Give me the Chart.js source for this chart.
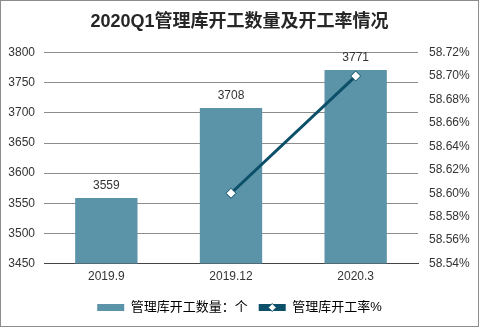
<!DOCTYPE html>
<html lang="zh">
<head>
  <meta charset="UTF-8">
  <title>2020Q1管理库开工数量及开工率情况</title>
  <style>
    body {
      margin: 0;
      padding: 0;
      background: #fff;
    }
    .frame {
      position: absolute;
      left: 0;
      top: 0;
      width: 477px;
      height: 325px;
      border: 1px solid #8c8c8c;
      background: #fff;
    }
    canvas {
      display: block;
    }
  </style>
  <script src="https://cdn.jsdelivr.net/npm/chart.js@4"></script>
</head>
<body>
  <div class="frame">
    <canvas id="chart" width="477" height="325"></canvas>
  </div>
  <script>
    const categories = ['2019.9', '2019.12', '2020.3'];
    const counts = [3559, 3708, 3771];
    const rates = [null, 58.60, 58.70];
    const leftTicks = [3450, 3500, 3550, 3600, 3650, 3700, 3750, 3800];
    const rightTicks = [58.54, 58.56, 58.58, 58.60, 58.62, 58.64, 58.66, 58.68, 58.70, 58.72];

    const font = "Arial, 'Liberation Sans', 'Noto Sans CJK SC', sans-serif";
    const barColor = '#5b93a8';
    const lineColor = '#0c4f68';

    // labels above bars + diamond on the line legend item
    const extras = {
      id: 'extras',
      afterDatasetsDraw(chart) {
        const ctx = chart.ctx;
        const meta = chart.getDatasetMeta(1);
        ctx.save();
        ctx.font = '12px ' + font;
        ctx.fillStyle = '#333';
        ctx.textAlign = 'center';
        ctx.textBaseline = 'bottom';
        meta.data.forEach((bar, i) => {
          ctx.fillText(counts[i], bar.x, bar.y - 6);
        });
        ctx.restore();
      },
      afterDraw(chart) {
        const boxes = chart.legend.legendHitBoxes;
        if (!boxes || boxes.length < 2) return;
        const b = boxes[1];
        const bw = chart.legend.options.labels.boxWidth;
        const cx = b.left + bw / 2;
        const cy = b.top + b.height / 2;
        const ctx = chart.ctx;
        ctx.save();
        ctx.fillStyle = '#fff';
        ctx.strokeStyle = lineColor;
        ctx.lineWidth = 1;
        ctx.beginPath();
        ctx.moveTo(cx, cy - 4);
        ctx.lineTo(cx + 4, cy);
        ctx.lineTo(cx, cy + 4);
        ctx.lineTo(cx - 4, cy);
        ctx.closePath();
        ctx.fill();
        ctx.stroke();
        ctx.restore();
      }
    };

    const ctx = document.getElementById('chart').getContext('2d');
    new Chart(ctx, {
      data: {
        labels: categories,
        datasets: [
          {
            type: 'line',
            label: '管理库开工率%',
            data: rates,
            yAxisID: 'y2',
            borderColor: lineColor,
            borderWidth: 3,
            pointStyle: 'rectRot',
            pointRadius: 5,
            pointBackgroundColor: '#fff',
            pointBorderColor: lineColor,
            pointBorderWidth: 1,
            spanGaps: false,
            order: 0
          },
          {
            type: 'bar',
            label: '管理库开工数量：个',
            data: counts,
            yAxisID: 'y',
            backgroundColor: barColor,
            categoryPercentage: 1,
            barPercentage: 0.5,
            order: 1
          }
        ]
      },
      options: {
        responsive: false,
        animation: false,
        layout: { padding: { left: 0, right: 0, top: 4, bottom: 2 } },
        plugins: {
          title: {
            display: true,
            text: '2020Q1管理库开工数量及开工率情况',
            color: '#262626',
            font: { family: font, size: 18, weight: 'bold' },
            padding: { top: 6, bottom: 20 }
          },
          legend: {
            position: 'bottom',
            labels: {
              color: '#333',
              font: { family: font, size: 13 },
              boxWidth: 27,
              boxHeight: 7,
              padding: 11,
              generateLabels(chart) {
                return [
                  {
                    text: '管理库开工数量：个',
                    fillStyle: barColor,
                    strokeStyle: barColor,
                    lineWidth: 0,
                    datasetIndex: 1
                  },
                  {
                    text: '管理库开工率%',
                    fillStyle: lineColor,
                    strokeStyle: lineColor,
                    lineWidth: 0,
                    datasetIndex: 0
                  }
                ];
              }
            }
          },
          tooltip: { enabled: false }
        },
        scales: {
          x: {
            grid: { display: false, drawTicks: false },
            border: { color: '#444' },
            ticks: { color: '#333', font: { family: font, size: 12 }, padding: 6 }
          },
          y: {
            position: 'left',
            min: 3450,
            max: 3800,
            afterBuildTicks(axis) {
              axis.ticks = leftTicks.map(v => ({ value: v }));
            },
            afterFit(axis) {
              axis.width = 43;
            },
            grid: { color: '#8c8c8c', drawTicks: false },
            border: { display: false },
            ticks: {
              color: '#333',
              font: { family: font, size: 12 },
              padding: 9,
              callback: v => String(v)
            }
          },
          y2: {
            position: 'right',
            min: 58.54,
            max: 58.72,
            afterBuildTicks(axis) {
              axis.ticks = rightTicks.map(v => ({ value: v }));
            },
            afterFit(axis) {
              axis.width = 60;
            },
            grid: { display: false, drawTicks: false },
            border: { display: false },
            ticks: {
              color: '#333',
              font: { family: font, size: 12 },
              padding: 11,
              callback: v => v.toFixed(2) + '%'
            }
          }
        }
      },
      plugins: [extras]
    });
  </script>
</body>
</html>
